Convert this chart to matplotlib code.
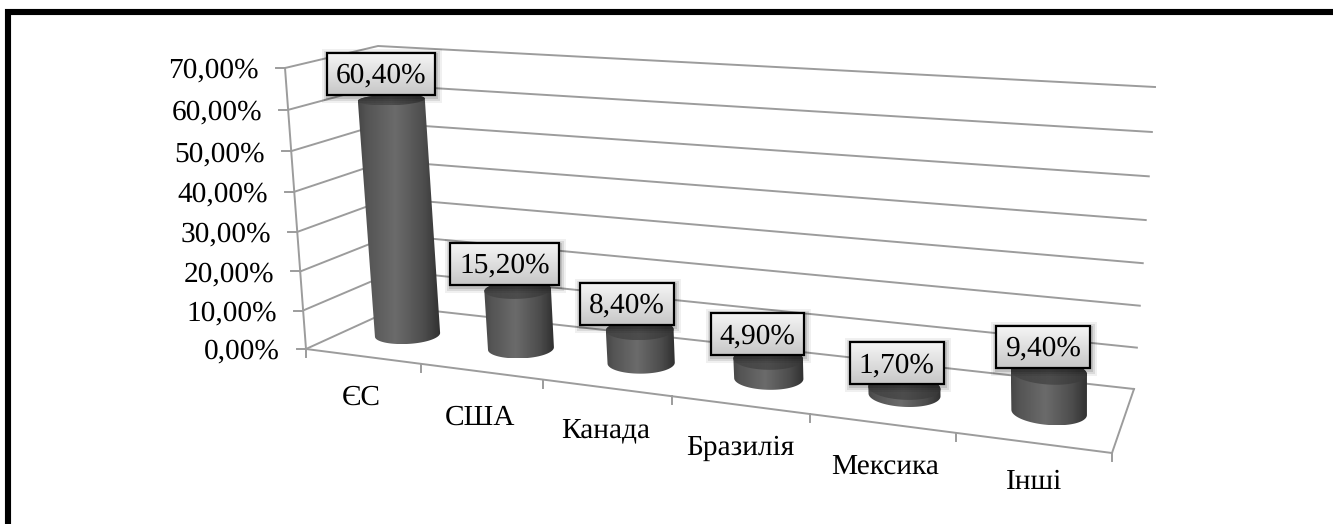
import numpy as np
import matplotlib
matplotlib.use('Agg')
import matplotlib.pyplot as plt
from matplotlib.patches import Polygon, Rectangle

categories = ['ЄС', 'США', 'Канада', 'Бразилія', 'Мексика', 'Інші']
values = [60.4, 15.2, 8.4, 4.9, 1.7, 9.4]
y_ticks = [0, 10, 20, 30, 40, 50, 60, 70]
y_max = 70

# hand placement of the text, in pixels
name_shift_x = [-1, -1, -1, 0, 3, 1]
name_shift_y = [41, 46, 44, 43, 44, 39]
label_shift_x = [-9, -12, -11, -9, -6, -4]
label_shift_y = [-5, -5, -5, -3, -3, -4]

plt.rcParams['font.family'] = ['Liberation Serif', 'DejaVu Serif']
plt.rcParams['text.hinting'] = 'none'
FONT = 21.2
GRID = '#9c9c9c'
LW = 1.4

# corners of the 3D box in pixels: (front/back, left/right, bottom/top)
FL0, FL1 = np.array([306., 349.]), np.array([285., 68.])
FR0, FR1 = np.array([1112., 453.]), np.array([1091., 127.])
BL0, BL1 = np.array([398., 307.]), np.array([378., 46.])
BR0, BR1 = np.array([1134., 389.]), np.array([1155., 87.])


def warp(t, k):
    # perspective foreshortening along one axis
    return t / (1 + k * (1 - t))


def project(u, d, v):
    """u - category position, d - depth 0..1, v - value in percent"""
    a = warp(np.asarray(u, dtype=float) / len(categories), 0.2)[..., None]
    t = warp(np.asarray(v, dtype=float) / y_max, 0.05)[..., None]
    d = np.asarray(d, dtype=float)[..., None]
    front = ((1 - a) * FL0 + a * FR0) * (1 - t) + ((1 - a) * FL1 + a * FR1) * t
    back = ((1 - a) * BL0 + a * BR0) * (1 - t) + ((1 - a) * BL1 + a * BR1) * t
    p = front * (1 - d) + back * d
    return p[..., 0], p[..., 1]


def fmt(v):
    return f'{v:.2f}'.replace('.', ',') + '%'


def half_ellipse(x, y, lower):
    """Part of the ellipse below (lower) or above its left-right chord, sorted by x"""
    lt, rt = np.argmin(x), np.argmax(x)
    chord = y[lt] + (x - x[lt]) * (y[rt] - y[lt]) / (x[rt] - x[lt])
    keep = y >= chord if lower else y <= chord
    order = np.argsort(x[keep])
    return np.c_[x[keep][order], y[keep][order]]


def gradient_fill(ax, poly, stops, greys, z):
    x0, x1 = poly[:, 0].min(), poly[:, 0].max()
    y0, y1 = poly[:, 1].min(), poly[:, 1].max()
    grad = np.interp(np.linspace(0, 1, 128), stops, greys).reshape(1, -1)
    im = ax.imshow(grad, extent=[x0, x1, y1, y0], aspect='auto', cmap='gray',
                   vmin=0, vmax=1, zorder=z)
    im.set_clip_path(Polygon(poly, closed=True, transform=ax.transData))


fig = plt.figure(figsize=(13.33, 5.24), dpi=100)
ax = fig.add_axes([0, 0, 1, 1])
ax.axis('off')

# page frame: only top and left sides are visible
ax.plot([8, 8, 1333], [524, 12, 12], color='black', lw=4.4,
        solid_capstyle='butt', solid_joinstyle='miter', zorder=1)

# walls and gridlines
for tick in y_ticks:
    xa, ya = project(0, 0, tick)
    xb, yb = project(0, 1, tick)
    xc, yc = project(len(categories), 1, tick)
    ax.plot([xa, xb, xc], [ya, yb, yc], color=GRID, lw=LW, zorder=2)
    ax.plot([xa - 9, xa], [ya, ya], color=GRID, lw=LW, zorder=2)
    ax.text(xa - 26, ya + 3, fmt(tick), fontsize=FONT, ha='right',
            va='center', color='black', zorder=3)

xs, ys = project(np.array([0., 0.]), 0, np.array([0., 70.]))
ax.plot(xs, ys, color=GRID, lw=LW, zorder=2)

# floor
fx, fy = project(np.arange(len(categories) + 1), 0, 0)
ax.plot(fx, fy, color=GRID, lw=LW, zorder=2)
bx, by = project(len(categories), 1, 0)
ax.plot([fx[-1], bx], [fy[-1], by], color=GRID, lw=LW, zorder=2)
for x, y in zip(fx, fy):
    ax.plot([x, x], [y, y + 8], color=GRID, lw=LW, zorder=2)

renderer = fig.canvas.get_renderer()
theta = np.linspace(0, 2 * np.pi, 240, endpoint=False)

for i, (name, val) in enumerate(zip(categories, values)):
    # category label below the front edge
    lx, ly = project(i + 0.5, 0, 0)
    ax.text(lx + name_shift_x[i], ly + name_shift_y[i], name, fontsize=FONT,
            ha='center', va='center', zorder=3)

    # cylinder outline comes from a projected circle
    u = i + 0.512 + 0.25 * np.cos(theta)
    d = 0.5 + 0.2 * np.sin(theta)
    x0, y0 = project(u, d, np.zeros_like(u))
    x1, y1 = project(u, d, np.full_like(u, val))
    outline = np.vstack([half_ellipse(x0, y0, True),
                         half_ellipse(x1, y1, False)[::-1]])
    gradient_fill(ax, outline, [0, 0.1, 0.45, 0.8, 1], [0.28, 0.33, 0.42, 0.30, 0.19], 4 + i)
    gradient_fill(ax, np.c_[x1, y1], [0, 0.5, 1], [0.27, 0.30, 0.22], 4.5 + i)

    # value label box
    cx, cy = project(i + 0.5, 0.5, val)
    tx = cx + label_shift_x[i]
    box_h = 42
    ty = cy + label_shift_y[i] - box_h / 2
    label = ax.text(tx, ty + 2, fmt(val), fontsize=FONT, ha='center', va='center',
                    color='black', zorder=22)
    half = label.get_window_extent(renderer).width / 2 + 9
    for grow, alpha in zip([6, 4, 2], [0.06, 0.09, 0.12]):
        ax.add_patch(Rectangle((tx - half - grow + 1, ty - box_h / 2 - grow + 2),
                               2 * half + 2 * grow, box_h + 2 * grow,
                               facecolor='black', edgecolor='none', alpha=alpha, zorder=20))
    grad = np.linspace(0.96, 0.78, 64).reshape(-1, 1)
    ax.imshow(grad, extent=[tx - half, tx + half, ty + box_h / 2, ty - box_h / 2],
              aspect='auto', cmap='gray', vmin=0, vmax=1, zorder=21)
    ax.add_patch(Rectangle((tx - half, ty - box_h / 2), 2 * half, box_h,
                           facecolor='none', edgecolor='black', lw=1.6, zorder=21.5))

ax.set_xlim(0, 1333)
ax.set_ylim(524, 0)
fig.savefig('out.png', dpi=100, facecolor='white')
